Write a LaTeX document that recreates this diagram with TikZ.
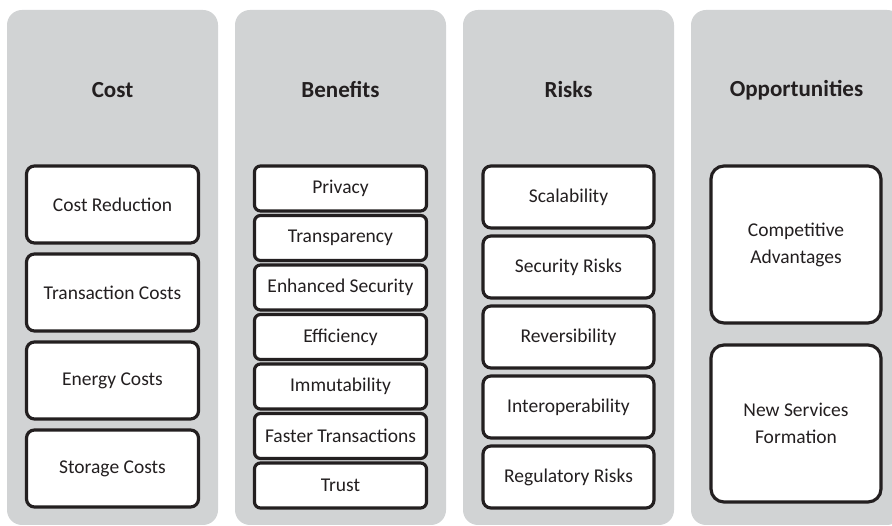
\documentclass[tikz,border=0pt]{standalone}
\usepackage{fontspec}
\setmainfont{Carlito}
\usepackage{xcolor}
\usepackage{tikz}

\definecolor{gris}{HTML}{D1D3D4}
\definecolor{noir}{HTML}{231F20}

\tikzset{
  colonne/.style={fill=gris, rounded corners=0.3cm},
  titre/.style={text=noir, font=\fontsize{13.1}{16}\selectfont\bfseries},
  boite/.style={draw=noir, fill=white, line width=1.8pt, rounded corners=0.16cm,
    text=noir, font=\fontsize{11.1}{15.4}\selectfont, minimum width=3.44cm,
    inner sep=0pt, align=center},
}

\begin{document}
\begin{tikzpicture}
  % Cadre de la figure
  \clip (0,0) rectangle (17.84,10.52);

  % Dessinez les colonnes grises
  \foreach \x in {0.14,4.70,9.26,13.82} {
    \fill[colonne] (\x,0.02) rectangle ++(4.22,10.30);
  }

  % Ajoutez les titres
  \foreach \x/\nom/\txt in {2.25/cout/Cost, 6.81/avantages/Benefits, 11.37/risques/Risks, 15.93/opportunites/Opportunities} {
    \node[titre] (\nom) at (\x,8.72) {\txt};
  }

  % Boites de la colonne Cost
  \foreach \y/\nom/\txt in {6.43/c1/Cost Reduction, 4.67/c2/Transaction Costs, 2.91/c3/Energy Costs, 1.15/c4/Storage Costs} {
    \node[boite, minimum height=1.54cm] (\nom) at (2.25,\y) {\txt};
  }

  % Boites de la colonne Benefits
  \foreach \y/\nom/\txt in {6.75/b1/Privacy, 5.76/b2/Transparency, 4.77/b3/Enhanced Security, 3.78/b4/Efficiency, 2.79/b5/Immutability, 1.80/b6/Faster Transactions, 0.81/b7/Trust} {
    \node[boite, minimum height=0.90cm, rounded corners=0.12cm] (\nom) at (6.81,\y) {\txt};
  }

  % Boites de la colonne Risks
  \foreach \y/\nom/\txt in {6.58/r1/Scalability, 5.18/r2/Security Risks, 3.78/r3/Reversibility, 2.38/r4/Interoperability, 0.98/r5/Regulatory Risks} {
    \node[boite, minimum height=1.24cm, minimum width=3.42cm] (\nom) at (11.37,\y) {\txt};
  }

  % Boites de la colonne Opportunities
  \node[boite, minimum height=3.14cm, minimum width=3.40cm, rounded corners=0.26cm] (o1) at (15.92,5.63) {Competitive\\Advantages};
  \node[boite, minimum height=3.14cm, minimum width=3.40cm, rounded corners=0.26cm] (o2) at (15.92,2.05) {New Services\\Formation};
\end{tikzpicture}
\end{document}
